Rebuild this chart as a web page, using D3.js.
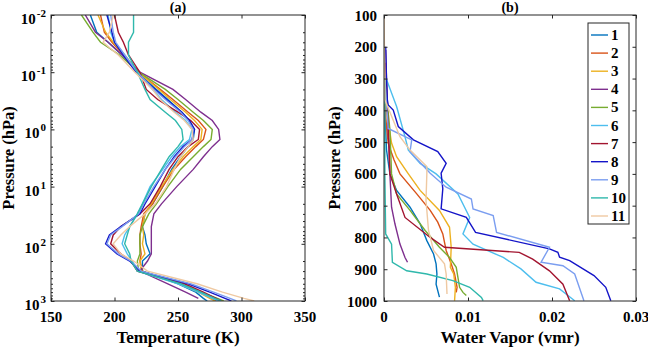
<!DOCTYPE html>
<html>
<head>
<meta charset="utf-8">
<script src="https://cdn.jsdelivr.net/npm/d3@7"></script>
<style>
  body { margin: 0; background: #fff; }
  svg text { font-family: "Liberation Serif", "DejaVu Serif", serif; font-weight: bold; fill: #000; }
</style>
</head>
<body>
<div id="vis"></div>
<script>
// frame constants
const FRAME_WIDTH = 648;
const FRAME_HEIGHT = 348;
const BOX_A = {left: 51, right: 305, top: 15, bottom: 301};
const BOX_B = {left: 384, right: 636, top: 15, bottom: 301};
const SERIF = "'Liberation Serif', 'DejaVu Serif', serif";

// series names + colours
const SERIES = ["1", "2", "3", "4", "5", "6", "7", "8", "9", "10", "11"];
const COLORS = ["#0072BD", "#D95319", "#EDB120", "#7E2F8E", "#77AC30", "#4DBEEE",
                "#A2142F", "#1414C8", "#7B9EF0", "#2FB8AC", "#EFC9A2"];

// (a) temperature profiles, on a shared pressure grid (hPa)
const P_TEMP = [0.01, 0.02, 0.03, 0.05, 0.1, 0.2, 0.3, 0.5, 0.7, 1, 1.5, 2, 3, 5, 10,
                20, 30, 50, 70, 100, 150, 200, 300, 500, 700, 900, 1000];
const T1  = [181,186,195,206,218,233,242,253,259,263,262,258,252,245,238,230,224,222,224,225,228,222,222,250,264,270,273];
const T2  = [189,192,198,207,219,236,246,258,266,272,270,264,256,247,238,230,223,221,220,220,221,220,222,252,267,276,280];
const T3  = [187,193,199,208,219,235,244,256,263,269,268,262,254,246,237,229,224,222,223,222,224,220,221,251,266,275,279];
const T4  = [177,185,195,206,220,246,256,268,277,282,283,277,270,262,249,237,231,229,229,229,229,226,220,242,256,266,null];
const T5  = [174,183,189,204,219,240,250,262,270,277,276,270,262,252,242,233,227,222,220,220,220,218,219,252,268,281,286];
const T6  = [195,197,200,208,218,230,237,248,256,261,259,252,245,238,228,222,218,212,208,206,210,214,218,250,266,277,282];
const T7  = [200,203,207,211,220,225,234,250,260,267,266,258,250,243,236,228,220,205,199,197,205,213,218,255,270,280,284];
const T8  = [194,198,200,207,217,232,241,253,259,263,261,254,247,240,232,224,220,205,196,193,202,212,220,258,275,287,292];
const T9  = [197,199,201,208,218,231,240,252,258,262,261,255,248,240,231,223,219,206,197,194,203,213,221,260,278,291,296];
const T10 = [215,215,211,211,218,224,228,240,248,253,254,250,243,237,229,222,218,212,210,208,212,213,218,252,268,279,284];
const T11 = [199,196,191,203,216,230,236,247,255,261,262,258,252,247,241,232,224,212,205,199,205,215,226,265,285,302,310];
const TEMPS = [T1, T2, T3, T4, T5, T6, T7, T8, T9, T10, T11];

// (b) water vapour profiles as [pressure hPa, vmr]
const WV1  = [[400,0.0001],[525,0.0003],[600,0.0007],[652,0.0015],[705,0.0031],[757,0.0043],[810,0.0051],[852,0.0059],[883,0.0062],[915,0.0063],[947,0.0062],[988,0.0066]];
const WV2  = [[380,0.0001],[451,0.0003],[504,0.0005],[556,0.0012],[600,0.0019],[663,0.0039],[715,0.0055],[752,0.0064],[789,0.0070],[841,0.0074],[883,0.0080],[915,0.0084],[957,0.0087],[973,0.0086]];
const WV3  = [[350,0.0001],[399,0.0003],[503,0.0009],[546,0.0015],[600,0.0029],[652,0.0043],[715,0.0066],[768,0.0078],[831,0.0080],[894,0.0079],[915,0.0083],[957,0.0085],[999,0.0084]];
const WV4  = [[210,0.0002],[400,0.0004],[520,0.0006],[600,0.0007],[705,0.0009],[757,0.0013],[821,0.0019],[863,0.0025],[878,0.0028]];
const WV5  = [[300,0.0001],[460,0.0007],[600,0.0009],[663,0.0015],[715,0.0031],[778,0.0049],[831,0.0066],[863,0.0078],[894,0.0086],[957,0.0090],[973,0.0094],[983,0.0098]];
const WV6  = [[290,0.0001],[310,0.0004],[388,0.0015],[483,0.0025],[525,0.0029],[567,0.0043],[600,0.0062],[663,0.0088],[737,0.0102],[789,0.0094],[821,0.0106],[863,0.0142],[899,0.0163],[941,0.0181],[962,0.0209],[999,0.0227]];
const WV7  = [[250,0.0002],[400,0.0004],[520,0.0006],[600,0.0007],[663,0.0015],[737,0.0025],[800,0.0055],[831,0.0072],[847,0.0161],[868,0.0177],[905,0.0197],[947,0.0213],[999,0.0221]];
const WV8  = [[200,0.0002],[300,0.0003],[367,0.0004],[383,0.0005],[399,0.0011],[451,0.0017],[493,0.0035],[530,0.0064],[567,0.0074],[598,0.0068],[647,0.0070],[710,0.0068],[737,0.0098],[784,0.0109],[836,0.0197],[847,0.0207],[862,0.0209],[873,0.0221],[920,0.0250],[957,0.0264],[999,0.0270]];
const WV9  = [[300,0.0001],[457,0.0005],[493,0.0033],[530,0.0031],[598,0.0055],[642,0.0074],[679,0.0104],[710,0.0106],[731,0.0130],[784,0.0134],[831,0.0197],[878,0.0187],[889,0.0213],[915,0.0227],[999,0.0238]];
const WV10 = [[300,0.0001],[600,0.0001],[789,0.0002],[821,0.0009],[878,0.0010],[905,0.0027],[915,0.0051],[936,0.0082],[957,0.0102],[989,0.0116],[999,0.0118]];
const WV11 = [[100,0],[300,0.0001],[367,0.0001],[483,0.0019],[525,0.0031],[577,0.0051],[600,0.0051],[684,0.0050],[778,0.0053],[841,0.0059],[883,0.0072],[915,0.0074],[978,0.0075]];
const VAPORS = [WV1, WV2, WV3, WV4, WV5, WV6, WV7, WV8, WV9, WV10, WV11];

// tick values
const T_TICKS = [150, 200, 250, 300, 350];
const P_LOG_EXP = [-2, -1, 0, 1, 2, 3];
const WV_TICKS = [0, 0.01, 0.02, 0.03];
const P_LIN_TICKS = [100, 200, 300, 400, 500, 600, 700, 800, 900, 1000];

const FRAME = d3.select("#vis")
                .append("svg")
                  .attr("width", FRAME_WIDTH)
                  .attr("height", FRAME_HEIGHT)
                  .attr("font-family", SERIF)
                  .attr("font-weight", "bold");

// scales
const X_T = d3.scaleLinear().domain([150, 350]).range([BOX_A.left, BOX_A.right]);
const Y_T = d3.scaleLog().domain([1e-2, 1e3]).range([BOX_A.top, BOX_A.bottom]);
const X_W = d3.scaleLinear().domain([0, 0.03]).range([BOX_B.left, BOX_B.right]);
const Y_W = d3.scaleLinear().domain([100, 1000]).range([BOX_B.top, BOX_B.bottom]);

// clip paths
const defs = FRAME.append("defs");
[["clipA", BOX_A], ["clipB", BOX_B]].forEach(([id, b]) => {
  defs.append("clipPath").attr("id", id)
      .append("rect").attr("x", b.left).attr("y", b.top)
      .attr("width", b.right - b.left).attr("height", b.bottom - b.top);
});

// ---- panel (a) lines
const lineT = d3.line()
                .defined((d) => d[1] != null)
                .x((d) => X_T(d[1]))
                .y((d) => Y_T(d[0]));
FRAME.append("g").attr("clip-path", "url(#clipA)")
  .selectAll("path")
  .data(TEMPS)
  .enter()
  .append("path")
    .attr("d", (s) => lineT(s.map((t, i) => [P_TEMP[i], t])))
    .attr("fill", "none")
    .attr("stroke", (s, i) => COLORS[i])
    .attr("stroke-width", 1.4);

// ---- panel (b) lines
const lineW = d3.line()
                .x((d) => X_W(d[1]))
                .y((d) => Y_W(d[0]));
FRAME.append("g").attr("clip-path", "url(#clipB)")
  .selectAll("path")
  .data(VAPORS)
  .enter()
  .append("path")
    .attr("d", (s) => lineW(s))
    .attr("fill", "none")
    .attr("stroke", (s, i) => COLORS[i])
    .attr("stroke-width", 1.4);

// ---- axes helper: inward ticks on all four sides, box outline
function drawBox(b) {
  FRAME.append("rect")
    .attr("x", b.left).attr("y", b.top)
    .attr("width", b.right - b.left).attr("height", b.bottom - b.top)
    .attr("fill", "none").attr("stroke", "#262626").attr("stroke-width", 1);
}
function axisInward(axisFn, scale, vals, transform, len) {
  const g = FRAME.append("g")
    .attr("transform", transform)
    .call(axisFn(scale).tickValues(vals).tickSize(-len).tickFormat(""));
  g.select(".domain").remove();
  g.selectAll("line").attr("stroke", "#262626");
  return g;
}

// panel (a) axes
const TL = 3.5;
axisInward(d3.axisBottom, X_T, T_TICKS, "translate(0," + BOX_A.bottom + ")", TL);
axisInward(d3.axisTop, X_T, T_TICKS, "translate(0," + BOX_A.top + ")", TL);
axisInward(d3.axisLeft, Y_T, P_LOG_EXP.map((e) => Math.pow(10, e)), "translate(" + BOX_A.left + ",0)", TL);
axisInward(d3.axisRight, Y_T, P_LOG_EXP.map((e) => Math.pow(10, e)), "translate(" + BOX_A.right + ",0)", TL);
const minorLog = [];
P_LOG_EXP.slice(0, -1).forEach((e) => { for (let k = 2; k <= 9; k++) minorLog.push(k * Math.pow(10, e)); });
axisInward(d3.axisLeft, Y_T, minorLog, "translate(" + BOX_A.left + ",0)", 2);
axisInward(d3.axisRight, Y_T, minorLog, "translate(" + BOX_A.right + ",0)", 2);
drawBox(BOX_A);

T_TICKS.forEach((v) => {
  FRAME.append("text").attr("x", X_T(v)).attr("y", BOX_A.bottom + 21)
    .attr("text-anchor", "middle").attr("font-size", 15).text(v);
});
P_LOG_EXP.forEach((e) => {
  const t = FRAME.append("text")
    .attr("x", BOX_A.left - 5).attr("y", Y_T(Math.pow(10, e)) + 9)
    .attr("text-anchor", "end").attr("font-size", 15);
  t.append("tspan").text("10");
  t.append("tspan").attr("dx", 1).attr("dy", -7).attr("font-size", 11).text(e);
});

// panel (b) axes
axisInward(d3.axisBottom, X_W, WV_TICKS, "translate(0," + BOX_B.bottom + ")", TL);
axisInward(d3.axisTop, X_W, WV_TICKS, "translate(0," + BOX_B.top + ")", TL);
axisInward(d3.axisLeft, Y_W, P_LIN_TICKS, "translate(" + BOX_B.left + ",0)", TL);
axisInward(d3.axisRight, Y_W, P_LIN_TICKS, "translate(" + BOX_B.right + ",0)", TL);
drawBox(BOX_B);

WV_TICKS.forEach((v) => {
  FRAME.append("text").attr("x", X_W(v)).attr("y", BOX_B.bottom + 21)
    .attr("text-anchor", "middle").attr("font-size", 15).text(v);
});
P_LIN_TICKS.forEach((v) => {
  FRAME.append("text").attr("x", BOX_B.left - 7).attr("y", Y_W(v) + 5.5)
    .attr("text-anchor", "end").attr("font-size", 15).text(v);
});

// titles
FRAME.append("text").attr("x", (BOX_A.left + BOX_A.right) / 2).attr("y", 12)
  .attr("text-anchor", "middle").attr("font-size", 14).text("(a)");
FRAME.append("text").attr("x", (BOX_B.left + BOX_B.right) / 2).attr("y", 12)
  .attr("text-anchor", "middle").attr("font-size", 14).text("(b)");
FRAME.append("text").attr("x", (BOX_A.left + BOX_A.right) / 2).attr("y", 343)
  .attr("text-anchor", "middle").attr("font-size", 17).text("Temperature (K)");
FRAME.append("text").attr("x", (BOX_B.left + BOX_B.right) / 2).attr("y", 343)
  .attr("text-anchor", "middle").attr("font-size", 17).text("Water Vapor (vmr)");
FRAME.append("text")
  .attr("transform", "translate(14," + (BOX_A.top + BOX_A.bottom) / 2 + ") rotate(-90)")
  .attr("text-anchor", "middle").attr("font-size", 16.5).text("Pressure (hPa)");
FRAME.append("text")
  .attr("transform", "translate(340," + (BOX_B.top + BOX_B.bottom) / 2 + ") rotate(-90)")
  .attr("text-anchor", "middle").attr("font-size", 16.5).text("Pressure (hPa)");

// legend
const LEG = {x: 588, y: 23, w: 41, h: 201, step: 18.1};
FRAME.append("rect").attr("x", LEG.x).attr("y", LEG.y)
  .attr("width", LEG.w).attr("height", LEG.h)
  .attr("fill", "#fff").attr("stroke", "#262626").attr("stroke-width", 1);
const legItems = FRAME.append("g").selectAll("g")
  .data(SERIES).enter().append("g")
  .attr("transform", (d, i) => "translate(" + LEG.x + "," + (LEG.y + 12 + i * LEG.step) + ")");
legItems.append("line").attr("x1", 3).attr("x2", 20).attr("y1", 0).attr("y2", 0)
  .attr("stroke", (d, i) => COLORS[i]).attr("stroke-width", 1.4);
legItems.append("text").attr("x", 23).attr("y", 5).attr("font-size", 15).text((d) => d);
</script>
</body>
</html>
